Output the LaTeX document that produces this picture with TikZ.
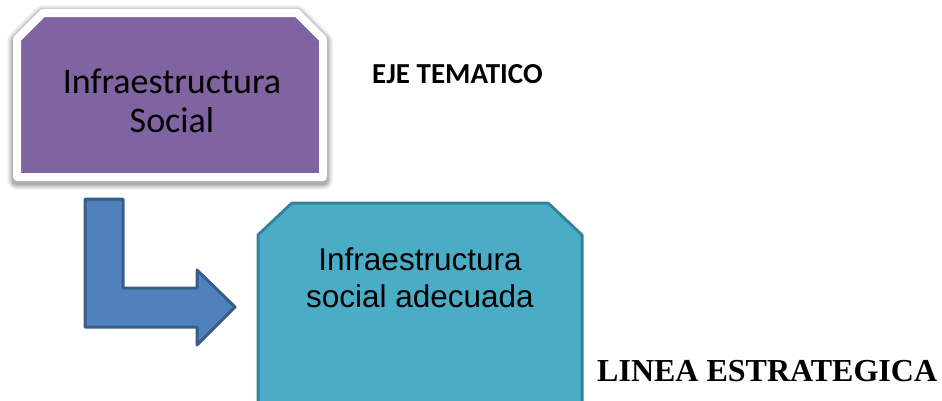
\documentclass[tikz,border=0pt]{standalone}
\usepackage{fontspec}
\setmainfont{Liberation Serif}
\newfontfamily\calibrif{Carlito}
\newfontfamily\arialf{Liberation Sans}
\definecolor{purplefill}{HTML}{8064A2}
\definecolor{tealfill}{HTML}{4BACC6}
\definecolor{tealline}{HTML}{31849B}
\definecolor{arrowfill}{HTML}{4F81BD}
\definecolor{arrowline}{HTML}{385D8A}
\tikzset{
  purplebox/.style={fill=purplefill, draw=white, line width=8pt, line join=round},
  shadowlayer/.style={fill=black, line join=round},
  tealbox/.style={fill=tealfill, draw=tealline, line width=3pt, line join=round},
  bentarrow/.style={fill=arrowfill, draw=arrowline, line width=3pt, line join=round},
  boxtext/.style={align=center, inner sep=0pt, text=black},
}
\begin{document}
\begin{tikzpicture}[x=1pt,y=-1pt]
\useasboundingbox (0,0) rectangle (942,400);
% soft shadow around the white frame
\foreach \d/\o in {6/0.035,5/0.045,4/0.055,3/0.065,2/0.075,1/0.085}{
  \path[shadowlayer, opacity=\o, draw=black, line width=8pt+2*\d pt]
    (17,39+2) -- (43,13+2) -- (297,13+2) -- (323,39+2) -- (323,177+3) -- (17,177+3) -- cycle;
}
% purple box
\path[purplebox] (17,39) -- (43,13) -- (297,13) -- (323,39) -- (323,177) -- (17,177) -- cycle;
% teal box
\path[tealbox] (258,235) -- (292,203) -- (548,203) -- (582,235) -- (582,420) -- (258,420) -- cycle;
% bent arrow
\path[bentarrow] (85,199) -- (123,199) -- (123,288) -- (197,288) -- (197,270) -- (235,307) -- (197,345) -- (197,327) -- (85,327) -- cycle;
% texts
\node[boxtext, font=\calibrif\fontsize{36}{39}\selectfont] (social) at (172,101) {Infraestructura\\Social};
\node[boxtext, font=\arialf\fontsize{31.5}{37}\selectfont] (adecuada) at (420,278) {Infraestructura\\social adecuada};
\node[inner sep=0pt, font=\calibrif\bfseries\fontsize{29}{32}\selectfont, anchor=base west] (eje) at (372,83) {EJE TEMATICO};
\node[inner sep=0pt, font=\bfseries\fontsize{32}{36}\selectfont, anchor=base west] (linea) at (597,381) {LINEA ESTRATEGICA};
\end{tikzpicture}
\end{document}
